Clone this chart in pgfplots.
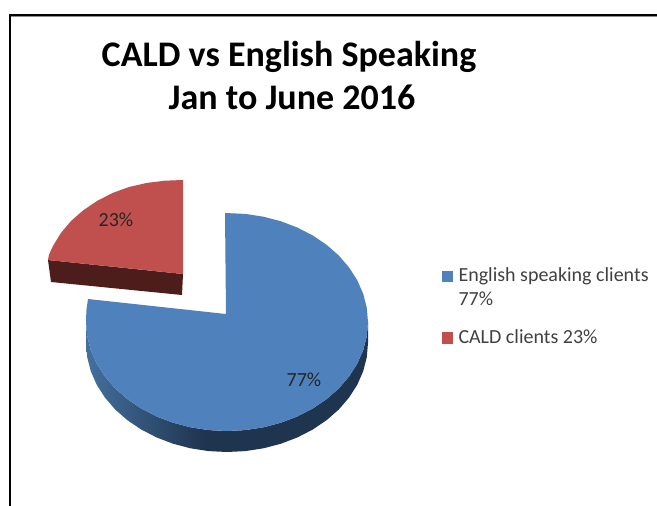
\documentclass[border=0pt]{standalone}
\usepackage{pgfplots}
\pgfplotsset{compat=1.18}
\usepackage{fontspec}
\setmainfont{Carlito}
\definecolor{pieblue}{HTML}{4F81BD}
\definecolor{piered}{HTML}{C0504D}
\definecolor{redwall}{HTML}{4D1D1B}
\definecolor{bluedark}{HTML}{1F344F}
\definecolor{bluemid}{HTML}{44709F}
\pgfdeclarehorizontalshading{pwall}{100bp}{color(0bp)=(bluemid); color(25bp)=(bluemid); color(46bp)=(bluedark); color(100bp)=(bluedark)}
\begin{document}
\begin{tikzpicture}
\begin{axis}[
  scale only axis, width=657pt, height=506pt,
  xmin=0, xmax=657, ymin=0, ymax=506, y dir=reverse,
  hide axis, clip=true,
  legend style={at={(axis cs:441.5,266)}, anchor=north west, draw=none, fill=none,
    font=\fontsize{20}{24}\selectfont\color[HTML]{404040}, inner sep=0pt, outer sep=0pt, row sep=42pt,
    column sep=0pt, cells={anchor=base west}},
  legend image code/.code={\fill[#1, draw=none] (0pt,-0.5pt) rectangle (11.5pt,11pt);},
]
\path (axis cs:0,0) rectangle (axis cs:657,506);
% frame
\addplot[forget plot, black!45, line width=1.2pt] coordinates {(11,16.8)(657,16.8)};
\addplot[forget plot, black, line width=2.8pt] coordinates {(10,506)(10,15)(657,15)};
% blue side wall
\addplot[forget plot, draw=none, shading=pwall] coordinates {
(368,322)(366.8,336.2)(363.2,350.2)(357.3,363.7)(349.1,376.5)(338.9,388.4)(326.7,399.1)(312.8,408.5)(297.5,416.4)(281,422.7)(263.5,427.3)(245.4,430.1)(227,431)(208.6,430.1)(190.5,427.3)(173,422.7)(156.5,416.4)(141.2,408.5)(127.3,399.1)(115.1,388.4)(104.9,376.5)(96.7,363.7)(90.8,350.2)(87.2,336.2)(86,322)
(86,343)(87.2,357.2)(90.8,371.2)(96.7,384.7)(104.9,397.5)(115.1,409.4)(127.3,420.1)(141.2,429.5)(156.5,437.4)(173,443.7)(190.5,448.3)(208.6,451.1)(227,452)(245.4,451.1)(263.5,448.3)(281,443.7)(297.5,437.4)(312.8,429.5)(326.7,420.1)(338.9,409.4)(349.1,397.5)(357.3,384.7)(363.2,371.2)(366.8,357.2)(368,343)
} -- cycle;
% red front wall
\addplot[forget plot, fill=redwall, draw=none] coordinates {(48,260)(183,274)(182,295)(51,282)} -- cycle;
% blue slice, 77 per cent
\addplot[fill=pieblue, draw=none] coordinates {
(226,314)(225,213)(245.4,213.9)(263.5,216.7)(281,221.3)(297.5,227.6)(312.8,235.5)(326.7,244.9)(338.9,255.6)(349.1,267.5)(357.3,280.3)(363.2,293.8)(366.8,307.8)(368,322)(366.8,336.2)(363.2,350.2)(357.3,363.7)(349.1,376.5)(338.9,388.4)(326.7,399.1)(312.8,408.5)(297.5,416.4)(281,422.7)(263.5,427.3)(245.4,430.1)(227,431)(208.6,430.1)(190.5,427.3)(173,422.7)(156.5,416.4)(141.2,408.5)(127.3,399.1)(115.1,388.4)(104.9,376.5)(96.7,363.7)(90.8,350.2)(87.2,336.2)(86,322)(86.4,310)(88,299)
} -- cycle;
\addlegendentry{\hspace{3.5pt}\vtop{\hbox{English speaking clients}\hbox{77\%}}}
% red slice, 23 per cent
\addplot[fill=piered, draw=none] coordinates {
(183,274)(183,180)(164.6,180.7)(146.5,183)(129,187)(112.5,193)(97,201)(83,210.5)(71,221)(60.9,233)(52.7,246.5)(48.9,255)(48,260)
} -- cycle;
\addlegendentry{\hspace{3.5pt}CALD clients 23\%}
\node[font=\fontsize{20}{24}\selectfont, text=black!85] at (axis cs:116,220) {23\%};
\node[font=\fontsize{20}{24}\selectfont, text=black!85] at (axis cs:304,380) {77\%};
\node[font=\fontsize{36}{43}\selectfont\bfseries, align=center, text=black] at (axis cs:289,76) {CALD vs English Speaking\\\hspace*{6pt}Jan to June 2016};
\end{axis}
\end{tikzpicture}
\end{document}
